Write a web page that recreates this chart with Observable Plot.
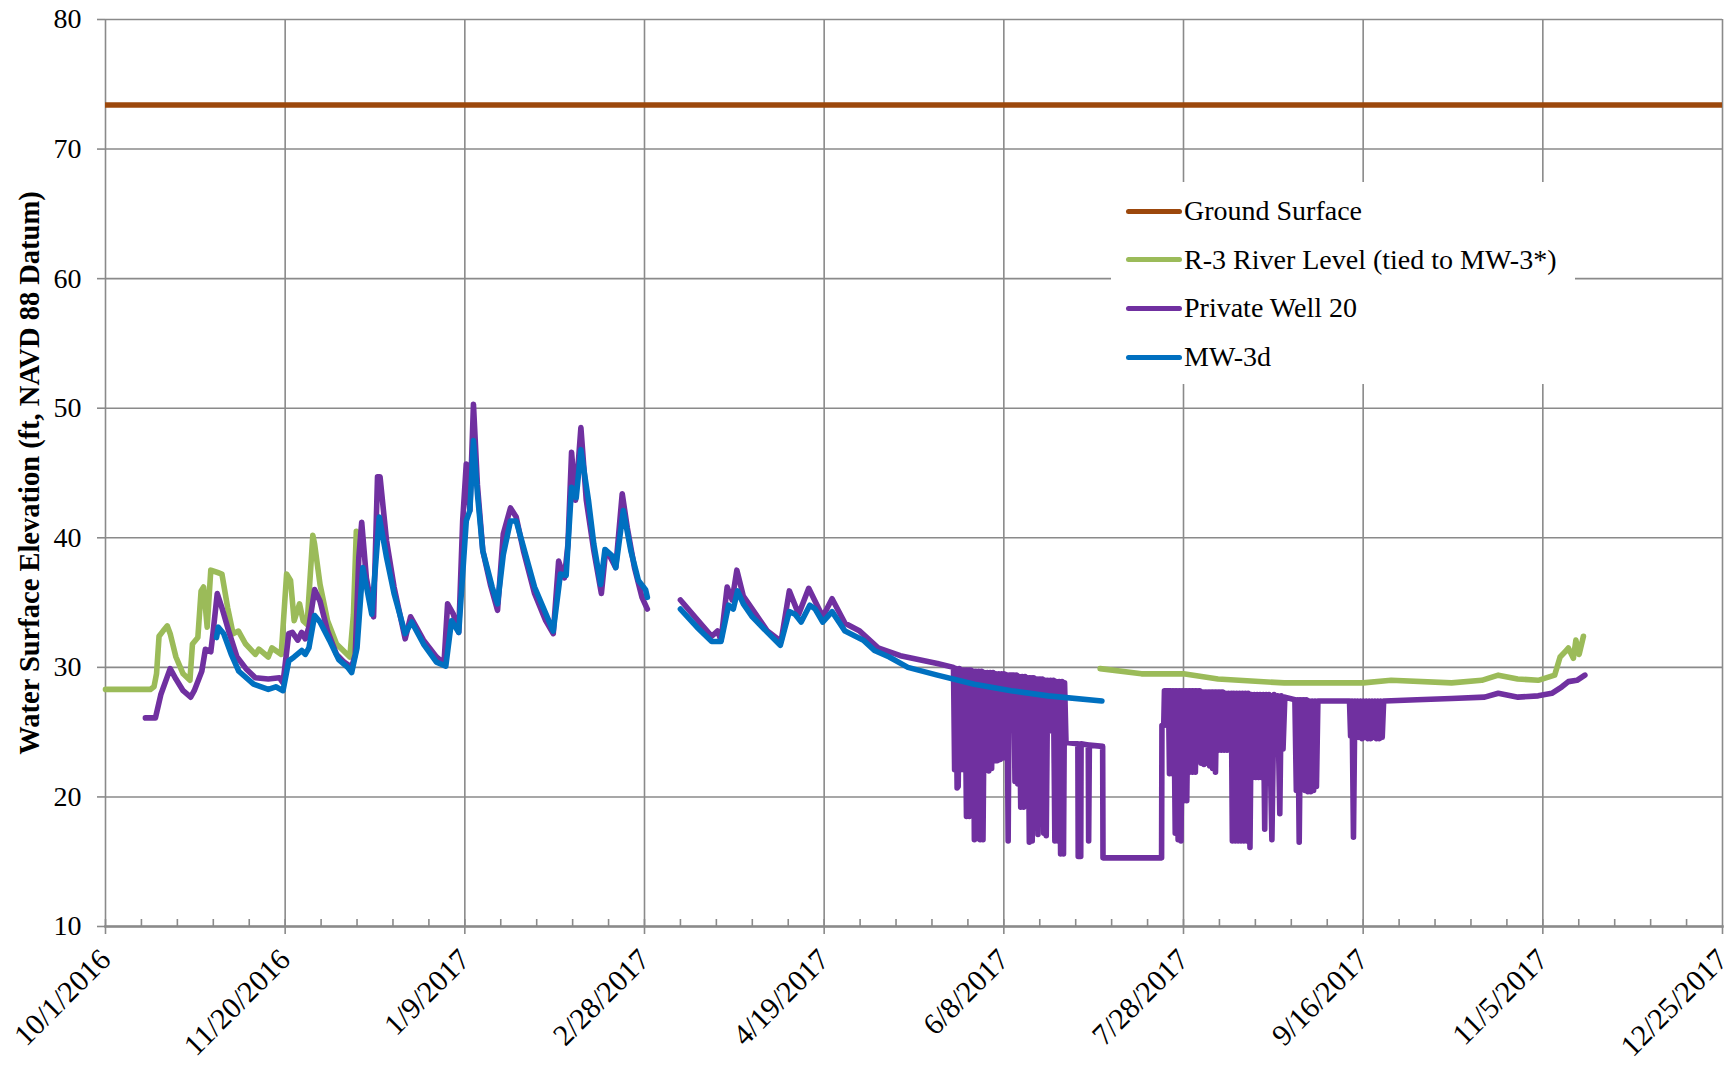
<!DOCTYPE html>
<html><head><meta charset="utf-8">
<script src="https://cdn.jsdelivr.net/npm/d3@7"></script>
<script src="https://cdn.jsdelivr.net/npm/@observablehq/plot@0.6"></script>
<style>
  body { margin: 0; background: #fff; }
  #wrap { position: relative; width: 1733px; height: 1065px; }
  #legend { position: absolute; left: 1111px; top: 182px; width: 464px; height: 202px; background: #fff;
            font-family: "Liberation Serif", serif; font-size: 28px; color: #000; }
  .row { position: absolute; left: 15px; height: 40px; display: flex; align-items: center; white-space: nowrap; }
  .sw { width: 56px; height: 5px; border-radius: 3px; margin-right: 2px; }
</style></head>
<body><div id="wrap"><div id="legend"></div></div>
<script>
// ---------- data (x values are days after 10/1/2016) ----------
const xTickLabels = ["10/1/2016","11/20/2016","1/9/2017","2/28/2017","4/19/2017","6/8/2017","7/28/2017","9/16/2017","11/5/2017","12/25/2017"];
const yTicks = [10, 20, 30, 40, 50, 60, 70, 80];
const yTitle = "Water Surface Elevation (ft, NAVD 88 Datum)";
const seriesNames = ["Ground Surface", "R-3 River Level (tied to MW-3*)", "Private Well 20", "MW-3d"];
const seriesColors = ["#9C480C", "#9BBB59", "#7030A0", "#0070C0"];

const groundSurface = 73.4;

const riverLevelA = [[0,28.3],[12.5,28.3],[13.5,28.5],[14.2,29.5],[14.9,32.4],[16,32.8],[17.2,33.2],[18,32.6],[19.6,30.8],[21.6,29.5],[23.5,29.0],[24.2,31.8],[25.7,32.3],[26.6,35.9],[27.3,36.2],[28.3,33.1],[29.3,37.5],[31.4,37.3],[32.4,37.2],[34,34.6],[35.5,32.6],[37,32.8],[39,31.8],[41.7,31.0],[42.7,31.4],[45.3,30.8],[46.3,31.5],[48.9,31.0],[50.4,37.2],[51.5,36.7],[52.5,33.6],[54,34.9],[55,33.6],[56.1,33.3],[57.7,40.2],[58.2,39.5],[59.7,36.4],[61.8,33.6],[64.3,31.8],[68,30.8],[69,34.1],[69.8,40.5]];
const riverLevelB = [[276.8,29.9],[288.3,29.5],[300,29.5],[309.6,29.1],[328,28.8],[350,28.8],[357.8,29.0],[374.6,28.8],[383,29.0],[387.6,29.4],[393,29.1],[398.7,29.0],[403.3,29.4],[404.8,30.8],[406.2,31.2],[407.1,31.5],[408.5,30.7],[409.2,32.1],[410.1,31.0],[411.3,32.4]];

const privateWellA = [[11.1,26.1],[13.9,26.1],[15.4,27.9],[18,29.9],[19.6,29.1],[21.6,28.2],[23.7,27.7],[24.7,28.2],[26.8,29.7],[27.8,31.4],[29.3,31.2],[29.9,32.6],[31.1,35.7],[32.4,34.6],[34.5,32.6],[36.6,30.8],[39.1,29.9],[41.7,29.2],[45.3,29.1],[48.4,29.2],[49.4,28.8],[51,32.6],[52,32.7],[53.5,32.1],[54.6,32.7],[55.6,32.2],[56.6,33.1],[58.2,36.0],[59.7,35.1],[61.8,32.8],[64.3,31.0],[66.4,30.4],[68.5,30.0],[69.5,31.0],[70.5,38.5],[71.3,41.2],[72.6,36.9],[74.6,33.9],[75.7,44.7],[76.4,44.7],[78.2,39.8],[80.3,36.2],[83.4,32.2],[84.9,33.9],[86.5,33.1],[88.5,32.1],[92.1,30.8],[94.2,30.3],[95.2,34.9],[96.8,34.1],[98.3,32.7],[99.4,41.3],[100.4,45.7],[101.4,42.1],[102.4,50.3],[103.5,44.1],[105,39.0],[107.1,36.4],[109.1,34.4],[110.7,40.3],[112.7,42.3],[114.3,41.6],[116.3,39.0],[119.4,35.7],[122.5,33.6],[124.6,32.6],[126.1,38.2],[127.7,36.9],[128.7,39.5],[129.7,46.6],[130.8,42.9],[132.3,48.5],[133.8,42.9],[135.9,39.0],[138,35.7],[139.2,39.0],[140.5,38.5],[142,37.7],[143.8,43.4],[145.2,40.8],[147.2,37.7],[149.3,35.4],[150.8,34.5]];
const privateWellB = [[160,35.2],[164.6,33.7],[168.7,32.4],[170.3,32.8],[171.3,32.1],[173,36.2],[174.4,35.2],[175.7,37.5],[177.5,35.5],[180,34.5],[184.2,32.8],[188,32.0],[190.3,35.9],[192.9,34.1],[195.7,36.1],[199.6,33.9],[202.2,35.3],[205.8,33.4],[209.9,32.8],[215,31.5],[221.2,30.9],[231.5,30.3],[236,30.0],
[236.3,22.1],[236.7,29.9],[237.0,20.7],[237.3,20.8],[237.6,29.9],[238.0,22.1],[238.4,29.8],[238.8,22.1],[239.2,29.8],[239.6,18.5],[240.0,29.8],[240.4,18.5],[240.8,29.8],[241.1,18.6],[241.5,29.7],[241.8,16.7],[242.2,29.7],[242.6,16.8],[243.0,29.7],[243.4,16.7],[243.8,29.7],[244.2,16.7],[244.6,29.6],[245.0,22.1],[245.4,29.6],[245.8,22.0],[246.2,29.6],[246.6,22.2],[247.0,29.6],[247.4,22.8],[247.8,29.5],[248.2,22.8],[248.6,29.5],[249.0,22.9],[249.4,29.5],[249.7,23.0],[250.0,29.5],
[250.9,29.4],[251.2,16.6],[251.5,29.4],[252.8,29.4],
[253.1,21.2],[253.5,29.4],[253.9,21.0],[254.3,29.3],[254.7,19.2],[255.1,29.3],[255.5,19.2],[255.9,29.3],[256.3,19.3],[256.7,29.2],[257.1,16.5],[257.5,29.2],[257.9,16.6],[258.3,29.2],[258.7,20.0],[259.1,29.1],[259.5,17.1],[259.9,29.1],[260.3,18.5],[260.7,29.1],[261.1,17.2],[261.5,29.0],[261.8,17.0],[262.2,29.0],[262.6,25.1],[263.0,29.0],[263.4,25.1],[263.8,29.0],[264.2,16.6],[264.6,28.9],[265.0,16.6],[265.4,28.9],[265.8,15.6],[266.2,28.9],[266.6,15.6],[266.9,28.8],[267.3,24.2],
[270.6,24.1],[270.7,15.4],[271.4,15.4],[271.5,24.1],[273.5,24.0],[273.6,16.6],[273.8,24.0],[277.5,23.9],[277.6,15.3],[293.9,15.3],[294.0,25.5],[294.5,25.5],[294.7,28.2],[295.8,28.2],
[296.1,21.8],[296.5,28.2],[296.9,21.8],[297.3,28.2],[297.7,17.2],[298.1,28.2],[298.5,16.7],[298.9,28.2],[299.3,16.6],[299.7,28.2],[300.1,19.7],[300.5,28.2],[300.9,19.7],[301.3,28.2],[301.7,21.9],[302.1,28.2],[302.5,21.9],[302.9,28.2],[303.3,21.9],[303.7,28.2],[304.1,25.2],[304.5,28.2],[304.9,22.6],[305.3,28.1],[305.7,22.5],[306.1,28.1],[306.5,22.6],[306.9,28.1],[307.3,22.4],[307.7,28.1],[308.1,22.2],[308.5,28.1],[308.9,21.9],[309.3,28.1],[309.7,23.6],[310.1,28.1],[310.5,23.6],[310.9,28.1],[311.3,23.6],[311.7,28.0],[312.1,23.6],[312.5,28.0],[312.9,23.6],[313.3,28.0],[313.6,16.6],[314.0,28.0],[314.4,16.6],[314.8,28.0],[315.2,16.6],[315.6,28.0],[316.0,16.6],[316.4,28.0],[316.8,16.6],[317.2,28.0],[317.6,16.6],[318.0,28.0],[318.5,16.1],[318.9,27.9],[319.3,21.5],[319.7,27.9],[320.1,21.5],[320.5,27.9],[320.9,21.5],[321.3,27.9],[321.7,21.5],[322.2,27.9],[322.6,17.5],[323.0,27.9],[323.4,23.0],[323.8,27.9],[324.6,16.7],[325.2,27.9],[325.8,23.3],[326.2,27.8],[326.8,18.7],[327.2,27.8],[327.7,23.7],[328.2,27.7],[331.0,27.5],
[331.4,20.5],[331.8,27.5],[332.2,16.5],[332.6,27.5],[333.0,20.6],[333.4,27.5],[333.8,20.5],[334.2,27.5],[334.6,20.4],[335.0,27.4],[335.4,20.4],[335.8,27.4],[336.2,20.5],[336.6,27.4],[337.0,20.8],[337.4,27.4],
[346.2,27.4],[346.5,24.7],[346.9,27.4],[347.3,16.9],[347.7,27.4],[348.1,24.6],[348.5,27.4],[348.9,24.6],[349.3,27.4],[349.7,24.5],[350.1,27.4],[350.5,24.6],[350.9,27.4],[351.3,24.5],[351.7,27.4],[352.1,24.5],[352.5,27.4],[352.9,24.6],[353.3,27.4],[353.7,24.5],[354.1,27.4],[354.5,24.5],[354.9,27.4],[355.3,24.6],[355.7,27.4],[356.0,27.4],
[365,27.5],[374.6,27.6],[383.8,27.7],[387.6,28.0],[393.1,27.7],[398.7,27.8],[402.5,28.0],[405.3,28.5],[407.1,28.9],[409.5,29.0],[411.7,29.4]];

const mw3dA = [[30.9,32.3],[31.4,33.1],[32.9,32.6],[35,31.0],[37.1,29.7],[41.2,28.7],[45.3,28.3],[47.4,28.5],[49.4,28.2],[51,30.5],[52.5,30.8],[54.6,31.3],[55.6,31.0],[56.6,31.5],[58.2,34.0],[59.7,33.5],[62.3,32.1],[64.9,30.6],[67.4,30.0],[68.5,29.6],[70,31.5],[71.6,37.7],[74.1,34.1],[76.2,41.6],[78.2,38.5],[80.3,35.7],[83.4,32.6],[85.2,33.5],[88.5,31.8],[92.1,30.4],[94.7,30.1],[96.3,33.6],[98.3,32.7],[100.4,41.3],[101.4,42.1],[102.4,47.5],[103.5,43.4],[105,39.0],[107.6,36.2],[109.1,34.9],[110.7,38.7],[112.7,41.3],[114.3,41.3],[116.3,39.3],[119.4,36.2],[124.6,32.8],[126.6,37.2],[128.2,37.1],[129.7,43.9],[131,43.1],[132.3,46.8],[134.4,42.9],[135.9,39.5],[137.8,36.4],[139,39.1],[141,38.6],[142,37.7],[144.1,42.1],[146.2,39.0],[148.3,36.7],[150.3,36.0],[150.8,35.4]];
const mw3dB = [[160,34.5],[164.6,33.1],[168.7,32.0],[171.3,32.0],[173.4,34.8],[174.7,34.5],[175.9,35.9],[177.5,34.9],[180,33.9],[184.2,32.7],[187.8,31.7],[190.3,34.3],[191.9,34.1],[193.6,33.5],[196,34.8],[197.5,34.5],[199.6,33.5],[202.2,34.3],[205.8,32.8],[210.9,32.1],[214,31.3],[218.1,30.8],[223.3,30.0],[231.5,29.4],[241.8,28.7],[252,28.2],[262.3,27.8],[277.3,27.4]];

// ---------- build ----------
const parseLabel = d3.utcParse("%m/%d/%Y");
const fmtLabel = d3.utcFormat("%-m/%-d/%Y");
const majorDates = xTickLabels.map(parseLabel);
const origin = majorDates[0];
const toDate = d => new Date(+origin + d * 864e5);
const minorDates = d3.utcDay.range(majorDates[0], majorDates[majorDates.length - 1], 10);

const rows = [];
function addSeries(arr, name, seg) { for (const [d, v] of arr) rows.push({date: toDate(d), value: v, series: name, seg}); }
addSeries(riverLevelA, seriesNames[1], "r1");
addSeries(riverLevelB, seriesNames[1], "r2");
addSeries(privateWellA, seriesNames[2], "p1");
addSeries(privateWellB, seriesNames[2], "p2");
addSeries(mw3dA, seriesNames[3], "m1");
addSeries(mw3dB, seriesNames[3], "m2");

const W = 1733, H = 1065, mL = 105, mR = 11, mT = 19, mB = 139;
const grid = "#8a8a8a";
const lineOpts = (name, color) => ({
  filter: d => d.series === name, x: "date", y: "value", z: "seg",
  stroke: color, strokeWidth: 5.6, strokeLinejoin: "round", strokeLinecap: "round"
});

const chart = Plot.plot({
  width: W, height: H,
  marginLeft: mL, marginRight: mR, marginTop: mT, marginBottom: mB,
  style: {fontFamily: "'Liberation Serif', serif", fontSize: "28px", color: "#000", background: "#fff", overflow: "visible"},
  x: {type: "utc", domain: [majorDates[0], majorDates[majorDates.length - 1]]},
  y: {domain: [yTicks[0], yTicks[yTicks.length - 1]]},
  marks: [
    Plot.gridY(yTicks, {stroke: grid, strokeOpacity: 1, strokeWidth: 1.6}),
    Plot.gridX(majorDates, {stroke: grid, strokeOpacity: 1, strokeWidth: 1.6}),
    Plot.frame({anchor: "bottom", stroke: grid, strokeWidth: 2.6}),
    Plot.tickX(minorDates, {x: d => d, stroke: grid, strokeWidth: 1.6, insetTop: H - mT - mB - 7}),
    Plot.axisY(yTicks, {tickSize: 8, tickPadding: 16, stroke: grid, strokeWidth: 1.6, label: null, fontSize: 28}),
    Plot.axisX(majorDates, {tickSize: 8, tickPadding: 20, tickRotate: -45, stroke: grid, strokeWidth: 1.6, tickFormat: fmtLabel, label: null, fontSize: 30}),
    Plot.text([yTitle], {text: d => d, frameAnchor: "left", textAnchor: "middle", rotate: -90, dx: -76, fontWeight: "bold", fontSize: 28.5}),
    Plot.ruleY([groundSurface], {stroke: seriesColors[0], strokeWidth: 5.4}),
    Plot.line(rows, lineOpts(seriesNames[1], seriesColors[1])),
    Plot.line(rows, lineOpts(seriesNames[2], seriesColors[2])),
    Plot.line(rows, lineOpts(seriesNames[3], seriesColors[3]))
  ]
});
const wrap = document.getElementById("wrap");
wrap.insertBefore(chart, wrap.firstChild);

const legend = document.getElementById("legend");
seriesNames.forEach((name, i) => {
  const row = document.createElement("div");
  row.className = "row";
  row.style.top = (9 + i * 48.7) + "px";
  const sw = document.createElement("div");
  sw.className = "sw";
  sw.style.background = seriesColors[i];
  const tx = document.createElement("span");
  tx.textContent = name;
  row.appendChild(sw); row.appendChild(tx);
  legend.appendChild(row);
});
</script>
</body></html>
